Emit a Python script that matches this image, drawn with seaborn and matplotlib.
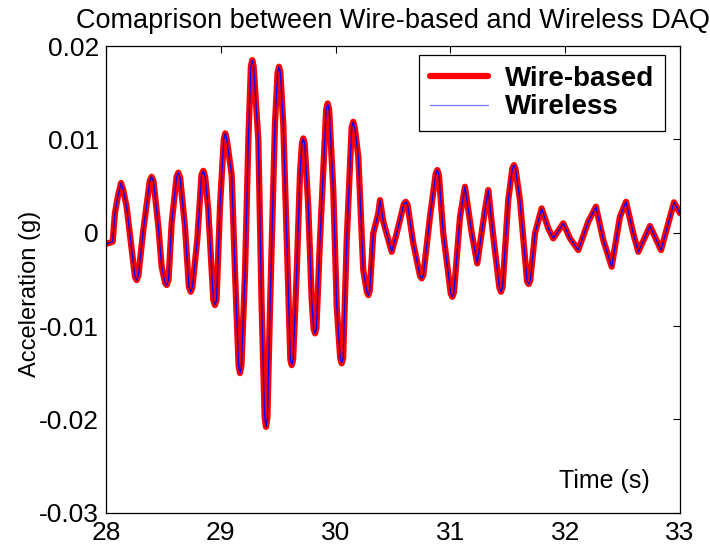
import matplotlib
matplotlib.use("Agg")
from matplotlib import pyplot as plt
import pandas as pd
import seaborn as sns

# values
time_s = [28.0, 28.058, 28.078, 28.105, 28.131, 28.150, 28.180, 28.224, 28.252, 28.267,
          28.282, 28.325, 28.382, 28.398, 28.414, 28.456, 28.485, 28.515, 28.529, 28.545,
          28.572, 28.615, 28.630, 28.646, 28.688, 28.722, 28.738, 28.753, 28.795, 28.832,
          28.848, 28.864, 28.891, 28.935, 28.949, 28.963, 28.993, 29.026, 29.039, 29.052,
          29.095, 29.124, 29.155, 29.167, 29.180, 29.211, 29.240, 29.262, 29.274, 29.286,
          29.327, 29.356, 29.382, 29.394, 29.406, 29.429, 29.472, 29.495, 29.507, 29.519,
          29.544, 29.588, 29.606, 29.618, 29.630, 29.661, 29.690, 29.707, 29.719, 29.731,
          29.762, 29.792, 29.809, 29.821, 29.833, 29.864, 29.918, 29.931, 29.944, 29.980,
          30.010, 30.040, 30.053, 30.066, 30.097, 30.140, 30.154, 30.168, 30.198, 30.241,
          30.272, 30.285, 30.298, 30.328, 30.372, 30.387, 30.416, 30.489, 30.532, 30.595,
          30.611, 30.627, 30.677, 30.735, 30.750, 30.765, 30.822, 30.872, 30.886, 30.900,
          30.938, 31.003, 31.017, 31.031, 31.084, 31.127, 31.186, 31.234, 31.301, 31.330,
          31.374, 31.427, 31.441, 31.455, 31.504, 31.540, 31.554, 31.568, 31.606, 31.668,
          31.682, 31.696, 31.737, 31.795, 31.853, 31.896, 31.983, 32.042, 32.114, 32.201,
          32.268, 32.332, 32.405, 32.477, 32.530, 32.593, 32.637, 32.739, 32.835, 32.948,
          33.0]

wire_based = [-0.0012, -0.00096, 0.00211, 0.0040, 0.00533, 0.0046, 0.00275, -0.00185, -0.0047, -0.00507,
              -0.0046, 0.00029, 0.0056, 0.0060, 0.0055, 0.00064, -0.00364, -0.0054, -0.0056, -0.0050,
              0.00104, 0.0060, 0.00643, 0.0059, 0.00064, -0.0058, -0.00632, -0.0058, -0.00078, 0.0062,
              0.00664, 0.0060, 0.00243, -0.0072, -0.00775, -0.0072, 0.00279, 0.0100, 0.01065, 0.0100,
              0.00618, -0.00432, -0.0142, -0.01504, -0.0142, -0.00432, 0.00993, 0.0178, 0.0185, 0.0178,
              0.00993, -0.00793, -0.0198, -0.02079, -0.0198, -0.00793, 0.01172, 0.0172, 0.01779, 0.0172,
              0.01172, -0.00614, -0.0136, -0.01418, -0.0136, -0.00435, 0.00636, 0.0096, 0.01011, 0.0095,
              0.00279, -0.00721, -0.0103, -0.01078, -0.0102, -0.00078, 0.0132, 0.01386, 0.0132, 0.00458,
              -0.00793, -0.0134, -0.01399, -0.0134, -0.00078, 0.0113, 0.01189, 0.0112, 0.00814, -0.0040,
              -0.0063, -0.00668, -0.0062, -0.00006, 0.00208, 0.0035, 0.00118, -0.00204, -0.00006, 0.0031,
              0.00332, 0.0030, -0.00114, -0.0046, -0.00489, -0.0045, 0.00171, 0.0063, 0.00672, 0.0062,
              -0.00006, -0.0065, -0.00686, -0.0064, 0.00171, 0.00493, -0.00006, -0.00328, 0.00243, 0.00458,
              -0.00043, -0.0059, -0.00632, -0.0058, 0.0035, 0.0069, 0.00725, 0.0068, 0.0035, -0.0052,
              -0.0055, -0.0051, -0.00006, 0.00261, 0.00047, -0.0006, 0.00101, -0.0006, -0.00185, 0.00118,
              0.00279, -0.00078, -0.00364, 0.00171, 0.00332, -0.00006, -0.00204, 0.00072, -0.00185, 0.00326,
              0.0021]

# the wireless record lies right on top of the wired one
wireless = list(wire_based)

x_ticks = [28, 29, 30, 31, 32, 33]
y_ticks = [-0.03, -0.02, -0.01, 0, 0.01, 0.02]
y_tick_labels = ['-0.03', '-0.02', '-0.01', '0', '0.01', '0.02']

df = pd.DataFrame({'Time': time_s, 'Wire-based': wire_based, 'Wireless': wireless})

sns.set_style('white')
plt.rcParams['font.family'] = ['Liberation Sans', 'DejaVu Sans']
plt.rcParams['text.color'] = 'black'
plt.rcParams['axes.labelcolor'] = 'black'

f, ax = plt.subplots(figsize=(7.1, 5.49), dpi=100)
f.subplots_adjust(left=0.1493, right=0.9577, bottom=0.066, top=0.916)

sns.lineplot(data=df, x='Time', y='Wire-based', color='red', linewidth=4.5, sort=False,
             label='Wire-based', ax=ax)
sns.lineplot(data=df, x='Time', y='Wireless', color='blue', linewidth=0.9, sort=False,
             label='Wireless', ax=ax)

ax.set_xlim(28, 33)
ax.set_ylim(-0.03, 0.02)
ax.set_xticks(x_ticks)
ax.set_xticklabels([str(t) for t in x_ticks])
ax.set_yticks(y_ticks)
ax.set_yticklabels(y_tick_labels)
ax.tick_params(direction='in', length=5, width=0.8, top=True, right=True,
               labelsize=19, colors='black', labelcolor='black')
ax.tick_params(axis='x', pad=6)
ax.tick_params(axis='y', pad=5)
for s in ax.spines.values():
    s.set_color('black')
    s.set_linewidth(0.9)

ax.set_title('Comaprison between Wire-based and Wireless DAQ', fontsize=19.5, pad=13, color='black')
ax.set_ylabel('Acceleration (g)', fontsize=17, va='center')
ax.yaxis.set_label_coords(-0.132, 0.468)
ax.set_xlabel('Time (s)', fontsize=18, va='center')
ax.xaxis.set_label_coords(0.868, 0.068)

leg = ax.legend(loc='upper right', bbox_to_anchor=(0.974, 0.981), borderaxespad=0,
                prop={'weight': 'bold', 'size': 20}, frameon=True, fancybox=False,
                borderpad=0.4, handlelength=2.1, handletextpad=0.6, labelspacing=0.08)
leg.get_frame().set_edgecolor('black')
leg.get_frame().set_linewidth(0.9)
leg.get_frame().set_alpha(1)
leg.get_lines()[1].set_alpha(0.55)

f.savefig('out.png', dpi=100)
